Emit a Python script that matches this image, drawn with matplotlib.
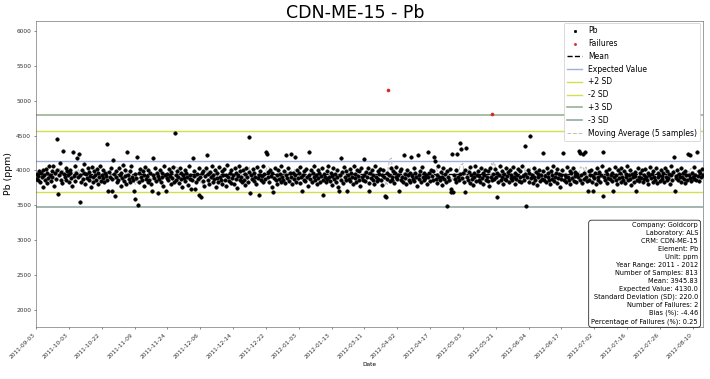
import matplotlib
matplotlib.use("Agg")
import matplotlib.pyplot as plt
import numpy as np
import pandas as pd

# valores (813 muestras)
pb = [
    3880,3950,3860,3920,3990,3840,3960,3900,3770,4010,3930,3870,4020,3960,3820,3890,4070,3940,3850,3990,
    3910,4060,3780,3960,3880,4000,4453,3657,3930,4100,3870,3980,3820,4276,3950,3900,4040,3860,3990,3930,
    3840,4010,3960,3890,3780,4262,3920,4060,3850,3970,4180,3900,4233,3553,3940,3830,4000,3880,3960,4090,
    3810,3950,3890,4030,3860,3980,3920,3760,4050,3900,3840,3990,3930,3870,4020,3800,3960,3910,4070,3850,
    3940,3890,4010,3830,3970,3920,3860,4376,3700,3980,3900,4040,3705,3880,4157,3950,3638,3910,3990,3840,
    3870,4030,3930,3780,3960,3890,4080,3850,3920,4000,3810,4262,3940,3880,3990,3830,4060,3910,3860,3700,
    3596,3950,3890,4190,3510,3970,3840,4020,3910,3860,3990,3780,3940,4050,3880,3920,3830,4000,3870,3960,
    3810,3700,3930,4181,3890,4040,3850,3970,3670,3920,3880,4010,3830,3960,3900,3780,4070,3940,3705,3890,
    3950,3860,4020,3920,3800,3980,3890,4050,3840,4538,3930,3870,3990,3910,3820,4030,3880,3960,3760,3940,
    3890,4000,3850,3970,3910,3790,4060,3880,3940,3730,3860,4176,3920,3990,3730,3840,3950,3880,4030,3650,
    3900,3619,3960,3850,3990,3780,3920,4040,4224,3870,3950,3810,3980,3900,4070,3840,3930,3880,4010,3760,
    3960,3890,3830,4050,3910,3860,3990,3800,3940,4020,3870,3930,3780,4080,3900,3850,3970,3820,4000,3890,
    3940,3810,4030,3880,3960,3750,3920,4060,3860,3990,3900,3830,4010,3870,3950,3790,4040,3910,3840,3980,
    4481,3671,3930,3880,4020,3850,3960,3910,3800,4050,3890,3940,3652,3990,3870,3920,4070,3830,3950,3880,
    4267,4240,3900,3980,3840,4010,3920,3760,3960,3690,3890,4040,3860,3930,3810,4000,3880,3950,3840,4060,
    3910,3870,3990,3820,4224,3940,3890,4030,3850,3970,3900,4240,3800,3960,3880,4200,3930,3840,4010,3890,
    3960,3820,4050,3900,3700,3940,3870,3990,3850,4020,3910,3780,4262,3930,3880,4000,3830,3960,3900,4070,
    3860,3940,3800,4010,3890,3970,3840,3920,4040,3870,3652,3950,3900,3830,3990,3880,4060,3910,3850,3960,
    3920,3790,4030,3880,3950,3840,4000,3900,3760,3700,3930,4180,3870,3980,3820,4050,3910,3860,3990,3700,
    3940,3880,4020,3850,3960,3910,3800,4070,3890,3950,3830,4010,3920,3870,3990,3780,4040,3900,3860,4170,
    3930,3850,3980,3900,4030,3820,3705,3960,3890,4010,3870,3940,3800,4060,3910,3850,3990,3880,3950,4020,
    3860,3930,3790,4000,3900,3633,3620,3970,3880,5150,3940,3850,4040,3910,3870,3990,3820,3960,3900,4050,
    3880,3940,3700,3990,3860,4020,3910,3830,4224,3950,3890,3800,4010,3930,3870,3970,3840,4200,3920,3880,
    4030,3850,3960,3900,3780,4224,3940,3880,3990,3830,4050,3910,3860,3970,3890,3940,3810,4267,3900,3960,
    3850,4010,3920,3870,3990,4190,4130,3880,3940,3820,4060,3900,3860,3980,3910,3790,4040,3880,3950,3840,
    3490,3990,3900,3860,4020,3730,3690,4230,3690,3940,3880,4000,3830,4230,3910,3870,4396,3950,4310,3890,
    3960,3840,3695,4010,4320,3900,3870,3980,3820,4050,3930,3880,3790,3960,3910,4070,3850,3940,3990,3870,
    3920,3830,4030,3890,3960,3800,3940,4010,3870,3910,3850,3990,3780,4040,3900,4810,3860,3950,3880,4020,
    3910,3619,3970,3840,3930,4060,3870,3990,3900,3810,3950,3880,4030,3860,3920,3980,3830,4000,3890,3940,
    3860,4050,3910,3800,3970,3880,3940,4020,3850,3990,3900,3830,4070,3920,3870,4357,3950,3486,3910,4000,
    3840,3960,4490,3890,3930,3820,4040,3900,3870,3980,3790,3950,3910,4010,3850,3940,3880,3990,4252,3860,
    3920,3830,4030,3900,3960,3870,3810,3990,3940,3880,4060,3850,3910,3970,3820,4020,3890,3950,3760,3930,
    3880,4000,4252,3860,3940,3900,3830,4050,3910,3870,3990,3800,3960,3890,4030,3850,3920,3980,3840,3950,
    3900,4280,3870,4250,3930,3820,4230,3960,3880,4260,3910,3850,3700,3990,3870,3940,4010,3830,3700,3920,
    3890,3960,3810,4040,3900,3870,3980,3840,3930,4070,3638,4267,3910,3860,3990,3820,3950,3890,4020,3880,
    3940,3850,3970,3700,3910,4050,3870,3930,3800,4000,3890,3960,3840,4030,3910,3870,3990,3820,3950,3900,
    4060,3860,3930,3880,4010,3790,3950,3900,3840,3980,3920,3700,3870,4040,3910,3850,3960,3890,4000,3830,
    3940,3880,4020,3900,3860,3970,3810,3930,4050,3890,3950,3840,3990,3910,3870,4030,3820,3960,3900,3940,
    3850,4000,3920,3880,3970,3830,4040,3910,3860,3990,3890,3950,3800,4060,3930,3870,3980,4195,3700,3920,
    3890,4010,3860,3950,3910,3840,4030,3900,3970,3880,3820,3990,3930,3870,4230,3940,3890,4220,3850,3960,
    3910,4050,3880,3940,3860,4260,3920,3990,3850,3970,3900,4020,3930,
]

fechas = ["2011-09-03", "2011-10-03", "2011-10-22", "2011-11-09", "2011-11-24",
          "2011-12-06", "2011-12-14", "2011-12-22", "2012-01-03", "2012-01-13",
          "2012-03-11", "2012-04-02", "2012-04-17", "2012-05-03", "2012-05-21",
          "2012-06-04", "2012-06-17", "2012-07-02", "2012-07-16", "2012-07-26",
          "2012-08-10"]

esperado = 4130.0
sd = 220.0
media = 3945.83

info = ["Company: Goldcorp", "Laboratory: ALS", "CRM: CDN-ME-15", "Element: Pb",
        "Unit: ppm", "Year Range: 2011 - 2012", "Number of Samples: 813",
        "Mean: 3945.83", "Expected Value: 4130.0", "Standard Deviation (SD): 220.0",
        "Number of Failures: 2", "Bias (%): -4.46", "Percentage of Failures (%): 0.25"]

y = np.array(pb, dtype=float)
x = np.arange(len(y))
fallas = np.abs(y - esperado) > 3 * sd
movil = pd.Series(y).rolling(5).mean()

fig = plt.figure(figsize=(14.2, 7.58), dpi=50)
ax = fig.add_axes([0.0507, 0.137, 0.939, 0.808])

ax.scatter(x[~fallas], y[~fallas], s=24, color='black', label='Pb', zorder=3)
ax.scatter(x[fallas], y[fallas], s=18, color='#d62728', label='Failures', zorder=4)
ax.axhline(media, color='black', ls='--', lw=2, label='Mean', zorder=2)
ax.axhline(esperado, color='#9fb0d8', lw=2, label='Expected Value')
ax.axhline(esperado + 2*sd, color='#d2e050', lw=2, label='+2 SD')
ax.axhline(esperado - 2*sd, color='#d2e050', lw=2, label='-2 SD')
ax.axhline(esperado + 3*sd, color='#9db596', lw=2.5, label='+3 SD')
ax.axhline(esperado - 3*sd, color='#9aaba6', lw=2.5, label='-3 SD')
ax.plot(x, movil, color='#c0c0c0', ls='--', lw=1.5, label='Moving Average (5 samples)', zorder=2)

ax.set_xlim(0, len(y) - 1)
ax.set_ylim(1755, 6145)
ax.set_xticks(np.arange(0, len(y), 40))
ax.set_xticklabels(fechas, rotation=45, ha='right')
ax.set_yticks(np.arange(2000, 6001, 500))
ax.tick_params(labelsize=8.5, colors='#333333')
for s in ax.spines.values():
    s.set_color('#555555')

fig.suptitle('CDN-ME-15 - Pb', fontsize=25, x=0.5, y=0.99)
ax.set_ylabel('Pb (ppm)', fontsize=13.5)
ax.set_xlabel('Date', fontsize=8.5)

ax.legend(loc='upper right', fontsize=11, framealpha=1, borderaxespad=0.3, markerscale=0.7)

ax.text(0.993, 0.008, "\n".join(info), transform=ax.transAxes, ha='right', va='bottom',
        fontsize=9.6, linespacing=1.38,
        bbox=dict(boxstyle='round,pad=0.4', facecolor='white', edgecolor='black'))

fig.savefig('out.png', dpi=50)
